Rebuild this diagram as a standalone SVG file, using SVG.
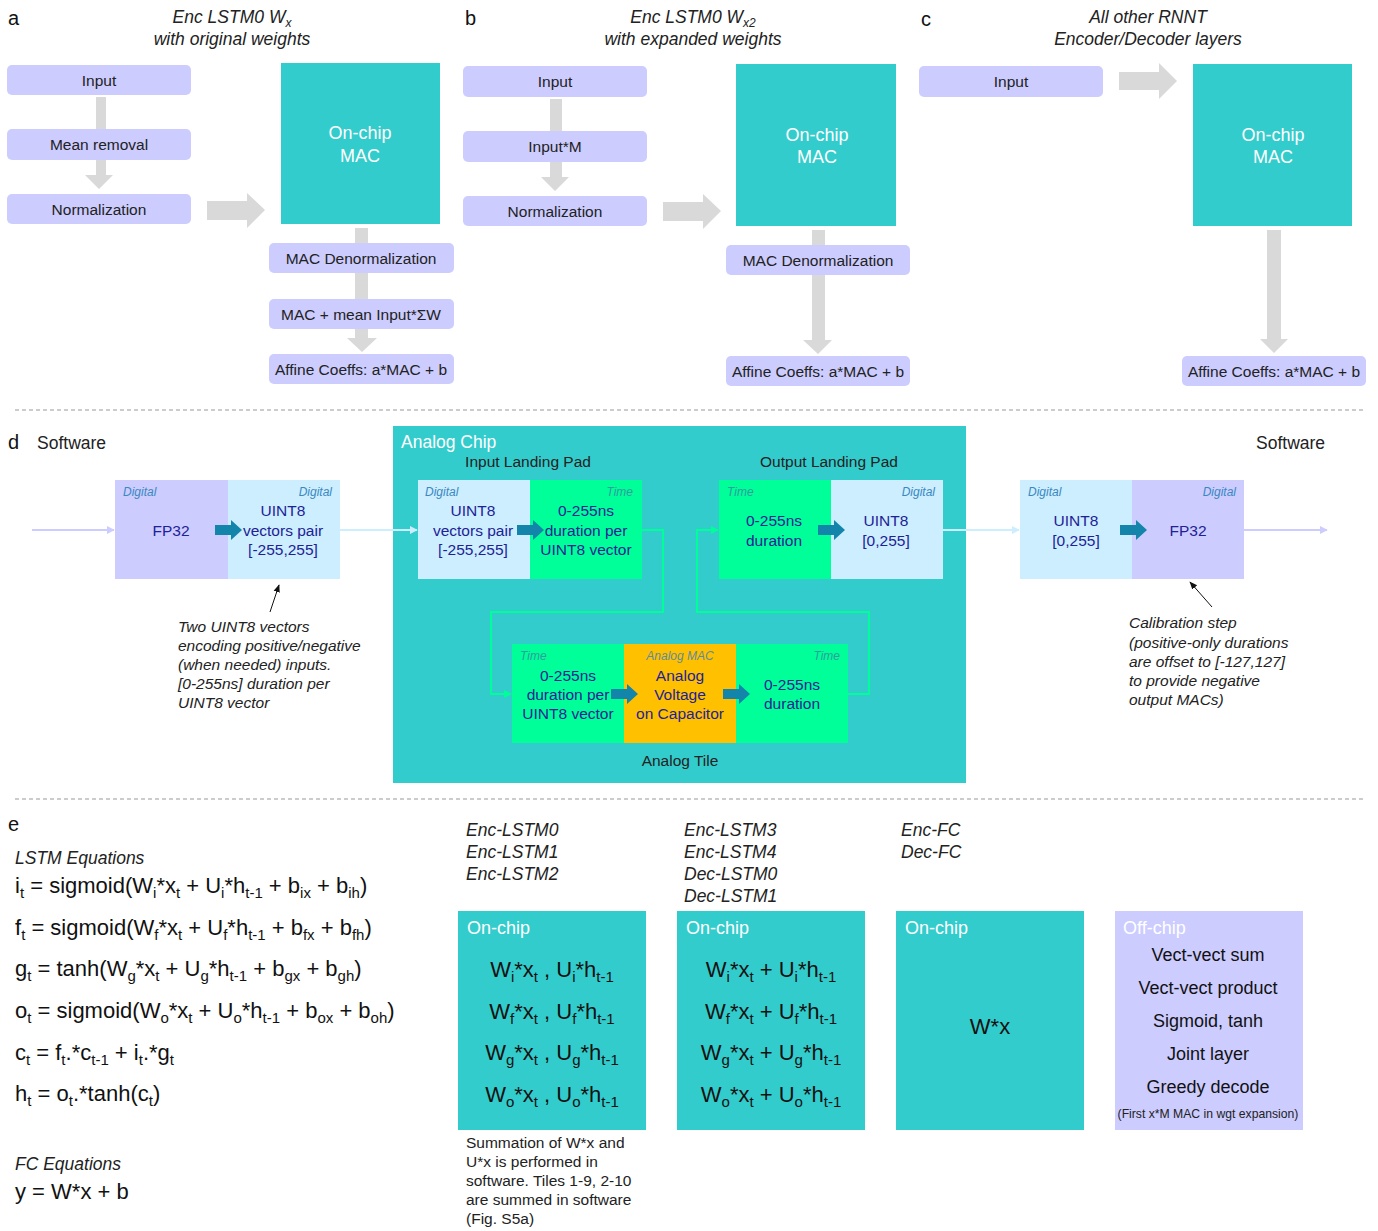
<svg xmlns="http://www.w3.org/2000/svg" xmlns:xlink="http://www.w3.org/1999/xlink" width="1378" height="1231" viewBox="0 0 1378 1231">
<style>
text{font-family:"Liberation Sans",Arial,sans-serif;fill:#222}
.lbl{font-size:20px;fill:#111}
.ttl{font-size:17.5px;font-style:italic;text-anchor:middle}
.bx{fill:#CCCCFF}
.bt{font-size:15.5px;text-anchor:middle}
.mac{fill:#33CCCC}
.mt{font-size:18px;fill:#fff;text-anchor:middle}
.ga{fill:#D9D9D9}
.dl{fill:#CCCCFF}
.db{fill:#CCEEFF}
.dg{fill:#00FF99}
.do{fill:#FFC000}
.dt{font-size:15.5px;fill:#1E2296;text-anchor:middle}
.sm{font-size:12px;font-style:italic;fill:#3A88C0}
.tm{font-size:12px;font-style:italic;fill:#2E9E9E}
.am{font-size:12px;font-style:italic;fill:#5F8C9A}
.ann{font-size:15.5px;font-style:italic;fill:#222}
.eq{font-size:22px;fill:#111}
.sb{font-size:15px}
.it{font-size:17.5px;font-style:italic}
.wt{font-size:18px;fill:#fff}
.ot{font-size:18px;text-anchor:middle;fill:#111}
.dash{stroke:#999;stroke-width:1.2;stroke-dasharray:4 3;fill:none}
</style>
<defs>
<path id="barrow" d="M0,-5 H16 V-10 L27,0 L16,10 V5 H0 Z" fill="#1485AA"/>
<marker id="mL" viewBox="0 0 10 10" refX="9" refY="5" markerWidth="4" markerHeight="4" orient="auto" markerUnits="strokeWidth"><path d="M0,0 L10,5 L0,10 Z" fill="#CCCCFF"/></marker>
<marker id="mB" viewBox="0 0 10 10" refX="9" refY="5" markerWidth="4" markerHeight="4" orient="auto" markerUnits="strokeWidth"><path d="M0,0 L10,5 L0,10 Z" fill="#CCEEFF"/></marker>
<marker id="mG" viewBox="0 0 10 10" refX="9" refY="5" markerWidth="4" markerHeight="4" orient="auto" markerUnits="strokeWidth"><path d="M0,0 L10,5 L0,10 Z" fill="#00FF99"/></marker>
<marker id="mK" viewBox="0 0 10 10" refX="9" refY="5" markerWidth="8" markerHeight="8" orient="auto" markerUnits="strokeWidth"><path d="M0,1 L10,5 L0,9 Z" fill="#111"/></marker>
</defs>
<rect width="1378" height="1231" fill="#fff"/>

<!-- panel labels -->
<text class="lbl" x="8" y="25">a</text>
<text class="lbl" x="465" y="25">b</text>
<text class="lbl" x="921" y="26">c</text>
<text class="lbl" x="8" y="449">d</text>
<text class="lbl" x="8" y="831">e</text>

<!-- titles -->
<text class="ttl" x="232" y="23">Enc LSTM0 W<tspan dy="4" font-size="12">x</tspan></text>
<text class="ttl" x="232" y="45">with original weights</text>
<text class="ttl" x="693" y="23">Enc LSTM0 W<tspan dy="4" font-size="12">x2</tspan></text>
<text class="ttl" x="693" y="45">with expanded weights</text>
<text class="ttl" x="1148" y="23">All other RNNT</text>
<text class="ttl" x="1148" y="45">Encoder/Decoder layers</text>

<g id="connectors">
 <!-- panel a -->
 <polygon class="ga" points="96,97 106,97 106,175 113,175 99,189 85,175 96,175"/>
 <polygon class="ga" points="207,201 247,201 247,193 265,210 247,228 247,220 207,220"/>
 <polygon class="ga" points="355,228 368,228 368,338 377,338 362,352 347,338 355,338"/>
 <!-- panel b -->
 <polygon class="ga" points="550,99 562,99 562,177 569,177 555,191 541,177 550,177"/>
 <polygon class="ga" points="663,202 703,202 703,194 721,211 703,229 703,221 663,221"/>
 <polygon class="ga" points="812,230 825,230 825,340 832,340 818,354 803,340 812,340"/>
 <!-- panel c -->
 <polygon class="ga" points="1119,72 1159,72 1159,63 1177,81 1159,99 1159,90 1119,90"/>
 <polygon class="ga" points="1267,230 1281,230 1281,339 1288,339 1274,353 1260,339 1267,339"/>
</g>

<!-- panel a nodes -->
<g id="a-input"><rect class="bx" x="7" y="65" width="184" height="30" rx="5"/><text class="bt" x="99" y="86">Input</text></g>
<g id="a-mean"><rect class="bx" x="7" y="129" width="184" height="31" rx="5"/><text class="bt" x="99" y="150">Mean removal</text></g>
<g id="a-norm"><rect class="bx" x="7" y="194" width="184" height="30" rx="5"/><text class="bt" x="99" y="215">Normalization</text></g>
<g id="a-mac"><rect class="mac" x="281" y="63" width="159" height="161"/><text class="mt" x="360" y="139">On-chip</text><text class="mt" x="360" y="162">MAC</text></g>
<g id="a-denorm"><rect class="bx" x="269" y="243" width="185" height="30" rx="5"/><text class="bt" x="361" y="264">MAC Denormalization</text></g>
<g id="a-meanin"><rect class="bx" x="269" y="299" width="185" height="30" rx="5"/><text class="bt" x="361" y="320">MAC + mean Input*ΣW</text></g>
<g id="a-affine"><rect class="bx" x="269" y="354" width="185" height="30" rx="5"/><text class="bt" x="361" y="375">Affine Coeffs: a*MAC + b</text></g>

<!-- panel b nodes -->
<g id="b-input"><rect class="bx" x="463" y="66" width="184" height="31" rx="5"/><text class="bt" x="555" y="87">Input</text></g>
<g id="b-inputm"><rect class="bx" x="463" y="131" width="184" height="31" rx="5"/><text class="bt" x="555" y="152">Input*M</text></g>
<g id="b-norm"><rect class="bx" x="463" y="196" width="184" height="30" rx="5"/><text class="bt" x="555" y="217">Normalization</text></g>
<g id="b-mac"><rect class="mac" x="736" y="64" width="160" height="162"/><text class="mt" x="817" y="141">On-chip</text><text class="mt" x="817" y="163">MAC</text></g>
<g id="b-denorm"><rect class="bx" x="726" y="245" width="184" height="30" rx="5"/><text class="bt" x="818" y="266">MAC Denormalization</text></g>
<g id="b-affine"><rect class="bx" x="726" y="356" width="184" height="30" rx="5"/><text class="bt" x="818" y="377">Affine Coeffs: a*MAC + b</text></g>

<!-- panel c nodes -->
<g id="c-input"><rect class="bx" x="919" y="66" width="184" height="31" rx="5"/><text class="bt" x="1011" y="87">Input</text></g>
<g id="c-mac"><rect class="mac" x="1193" y="64" width="159" height="162"/><text class="mt" x="1273" y="141">On-chip</text><text class="mt" x="1273" y="163">MAC</text></g>
<g id="c-affine"><rect class="bx" x="1182" y="356" width="184" height="30" rx="5"/><text class="bt" x="1274" y="377">Affine Coeffs: a*MAC + b</text></g>

<line class="dash" x1="15" y1="410" x2="1365" y2="410"/>
<line class="dash" x1="15" y1="799" x2="1365" y2="799"/>

<!-- panel d -->
<text x="37" y="449" font-size="17.5">Software</text>
<text x="1256" y="449" font-size="17.5">Software</text>

<g id="d-chip"><rect class="mac" x="393" y="426" width="573" height="357"/>
<text x="401" y="448" font-size="17.5" fill="#fff" style="fill:#fff">Analog Chip</text>
<text x="528" y="467" font-size="15.5" text-anchor="middle">Input Landing Pad</text>
<text x="829" y="467" font-size="15.5" text-anchor="middle">Output Landing Pad</text>
<text x="680" y="766" font-size="15.5" text-anchor="middle">Analog Tile</text>
</g>

<g id="d-sw-in">
<rect class="dl" x="115" y="480" width="113" height="99"/>
<rect class="db" x="228" y="480" width="112" height="99"/>
<text class="sm" x="123" y="496">Digital</text>
<text class="sm" x="332" y="496" text-anchor="end">Digital</text>
<text class="dt" x="171" y="536">FP32</text>
<text class="dt" x="283" y="516">UINT8</text>
<text class="dt" x="283" y="536">vectors pair</text>
<text class="dt" x="283" y="555">[-255,255]</text>
</g>

<g id="d-in-pad">
<rect class="db" x="418" y="480" width="112" height="99"/>
<rect class="dg" x="530" y="480" width="112" height="99"/>
<text class="sm" x="425" y="496">Digital</text>
<text class="tm" x="633" y="496" text-anchor="end">Time</text>
<text class="dt" x="473" y="516">UINT8</text>
<text class="dt" x="473" y="536">vectors pair</text>
<text class="dt" x="473" y="555">[-255,255]</text>
<text class="dt" x="586" y="516">0-255ns</text>
<text class="dt" x="586" y="536">duration per</text>
<text class="dt" x="586" y="555">UINT8 vector</text>
</g>

<g id="d-out-pad">
<rect class="dg" x="719" y="480" width="112" height="99"/>
<rect class="db" x="831" y="480" width="112" height="99"/>
<text class="tm" x="727" y="496">Time</text>
<text class="sm" x="935" y="496" text-anchor="end">Digital</text>
<text class="dt" x="774" y="526">0-255ns</text>
<text class="dt" x="774" y="546">duration</text>
<text class="dt" x="886" y="526">UINT8</text>
<text class="dt" x="886" y="546">[0,255]</text>
</g>

<g id="d-tile">
<rect class="dg" x="512" y="644" width="112" height="99"/>
<rect class="do" x="624" y="644" width="112" height="99"/>
<rect class="dg" x="736" y="644" width="112" height="99"/>
<text class="tm" x="520" y="660">Time</text>
<text class="am" x="680" y="660" text-anchor="middle">Analog MAC</text>
<text class="tm" x="840" y="660" text-anchor="end">Time</text>
<text class="dt" x="568" y="681">0-255ns</text>
<text class="dt" x="568" y="700">duration per</text>
<text class="dt" x="568" y="719">UINT8 vector</text>
<text class="dt" x="680" y="681">Analog</text>
<text class="dt" x="680" y="700">Voltage</text>
<text class="dt" x="680" y="719">on Capacitor</text>
<text class="dt" x="792" y="690">0-255ns</text>
<text class="dt" x="792" y="709">duration</text>
</g>

<g id="d-sw-out">
<rect class="db" x="1020" y="480" width="112" height="99"/>
<rect class="dl" x="1132" y="480" width="112" height="99"/>
<text class="sm" x="1028" y="496">Digital</text>
<text class="sm" x="1236" y="496" text-anchor="end">Digital</text>
<text class="dt" x="1076" y="526">UINT8</text>
<text class="dt" x="1076" y="546">[0,255]</text>
<text class="dt" x="1188" y="536">FP32</text>
</g>

<g id="d-connectors">
<line x1="32" y1="530" x2="114" y2="530" stroke="#CCCCFF" stroke-width="2" marker-end="url(#mL)"/>
<line x1="340" y1="530" x2="417" y2="530" stroke="#CCEEFF" stroke-width="2" marker-end="url(#mB)"/>
<line x1="943" y1="530" x2="1019" y2="530" stroke="#CCEEFF" stroke-width="2" marker-end="url(#mB)"/>
<line x1="1244" y1="530" x2="1327" y2="530" stroke="#CCCCFF" stroke-width="2" marker-end="url(#mL)"/>
<path d="M642,530 H663 V612 H491 V694 H511" fill="none" stroke="#00FF99" stroke-width="2" marker-end="url(#mG)"/>
<path d="M848,694 H869 V612 H697 V530 H718" fill="none" stroke="#00FF99" stroke-width="2" marker-end="url(#mG)"/>
<use xlink:href="#barrow" href="#barrow" x="215" y="530"/>
<use xlink:href="#barrow" href="#barrow" x="517" y="530"/>
<use xlink:href="#barrow" href="#barrow" x="818" y="530"/>
<use xlink:href="#barrow" href="#barrow" x="611" y="694"/>
<use xlink:href="#barrow" href="#barrow" x="723" y="694"/>
<use xlink:href="#barrow" href="#barrow" x="1120" y="530"/>
<line x1="270" y1="612" x2="279" y2="585" stroke="#111" stroke-width="1" marker-end="url(#mK)"/>
<line x1="1212" y1="607" x2="1190" y2="582" stroke="#111" stroke-width="1" marker-end="url(#mK)"/>
</g>

<g id="d-notes">
<text class="ann" x="178" y="632">Two UINT8 vectors</text>
<text class="ann" x="178" y="651">encoding positive/negative</text>
<text class="ann" x="178" y="670">(when needed) inputs.</text>
<text class="ann" x="178" y="689">[0-255ns] duration per</text>
<text class="ann" x="178" y="708">UINT8 vector</text>
<text class="ann" x="1129" y="628">Calibration step</text>
<text class="ann" x="1129" y="648">(positive-only durations</text>
<text class="ann" x="1129" y="667">are offset to [-127,127]</text>
<text class="ann" x="1129" y="686">to provide negative</text>
<text class="ann" x="1129" y="705">output MACs)</text>
</g>

<!-- panel e -->
<g id="e-equations">
<text class="it" x="15" y="864">LSTM Equations</text>
<text class="eq" x="15" y="893">i<tspan class="sb" dy="5">t</tspan><tspan dy="-5"> = sigmoid(W</tspan><tspan class="sb" dy="5">i</tspan><tspan dy="-5">*x</tspan><tspan class="sb" dy="5">t</tspan><tspan dy="-5"> + U</tspan><tspan class="sb" dy="5">i</tspan><tspan dy="-5">*h</tspan><tspan class="sb" dy="5">t-1</tspan><tspan dy="-5"> + b</tspan><tspan class="sb" dy="5">ix</tspan><tspan dy="-5"> + b</tspan><tspan class="sb" dy="5">ih</tspan><tspan dy="-5">)</tspan></text>
<text class="eq" x="15" y="935">f<tspan class="sb" dy="5">t</tspan><tspan dy="-5"> = sigmoid(W</tspan><tspan class="sb" dy="5">f</tspan><tspan dy="-5">*x</tspan><tspan class="sb" dy="5">t</tspan><tspan dy="-5"> + U</tspan><tspan class="sb" dy="5">f</tspan><tspan dy="-5">*h</tspan><tspan class="sb" dy="5">t-1</tspan><tspan dy="-5"> + b</tspan><tspan class="sb" dy="5">fx</tspan><tspan dy="-5"> + b</tspan><tspan class="sb" dy="5">fh</tspan><tspan dy="-5">)</tspan></text>
<text class="eq" x="15" y="976">g<tspan class="sb" dy="5">t</tspan><tspan dy="-5"> = tanh(W</tspan><tspan class="sb" dy="5">g</tspan><tspan dy="-5">*x</tspan><tspan class="sb" dy="5">t</tspan><tspan dy="-5"> + U</tspan><tspan class="sb" dy="5">g</tspan><tspan dy="-5">*h</tspan><tspan class="sb" dy="5">t-1</tspan><tspan dy="-5"> + b</tspan><tspan class="sb" dy="5">gx</tspan><tspan dy="-5"> + b</tspan><tspan class="sb" dy="5">gh</tspan><tspan dy="-5">)</tspan></text>
<text class="eq" x="15" y="1018">o<tspan class="sb" dy="5">t</tspan><tspan dy="-5"> = sigmoid(W</tspan><tspan class="sb" dy="5">o</tspan><tspan dy="-5">*x</tspan><tspan class="sb" dy="5">t</tspan><tspan dy="-5"> + U</tspan><tspan class="sb" dy="5">o</tspan><tspan dy="-5">*h</tspan><tspan class="sb" dy="5">t-1</tspan><tspan dy="-5"> + b</tspan><tspan class="sb" dy="5">ox</tspan><tspan dy="-5"> + b</tspan><tspan class="sb" dy="5">oh</tspan><tspan dy="-5">)</tspan></text>
<text class="eq" x="15" y="1060">c<tspan class="sb" dy="5">t</tspan><tspan dy="-5"> = f</tspan><tspan class="sb" dy="5">t</tspan><tspan dy="-5">.*c</tspan><tspan class="sb" dy="5">t-1</tspan><tspan dy="-5"> + i</tspan><tspan class="sb" dy="5">t</tspan><tspan dy="-5">.*g</tspan><tspan class="sb" dy="5">t</tspan></text>
<text class="eq" x="15" y="1101">h<tspan class="sb" dy="5">t</tspan><tspan dy="-5"> = o</tspan><tspan class="sb" dy="5">t</tspan><tspan dy="-5">.*tanh(c</tspan><tspan class="sb" dy="5">t</tspan><tspan dy="-5">)</tspan></text>
<text class="it" x="15" y="1170">FC Equations</text>
<text class="eq" x="15" y="1199">y = W*x + b</text>
</g>

<g id="e-labels">
<text class="it" x="466" y="836">Enc-LSTM0</text>
<text class="it" x="466" y="858">Enc-LSTM1</text>
<text class="it" x="466" y="880">Enc-LSTM2</text>
<text class="it" x="684" y="836">Enc-LSTM3</text>
<text class="it" x="684" y="858">Enc-LSTM4</text>
<text class="it" x="684" y="880">Dec-LSTM0</text>
<text class="it" x="684" y="902">Dec-LSTM1</text>
<text class="it" x="901" y="836">Enc-FC</text>
<text class="it" x="901" y="858">Dec-FC</text>
</g>

<g id="e-box1">
<rect class="mac" x="458" y="911" width="188" height="219"/>
<text class="wt" x="467" y="934">On-chip</text>
<text class="eq" x="552" y="977" text-anchor="middle">W<tspan class="sb" dy="5">i</tspan><tspan dy="-5">*x</tspan><tspan class="sb" dy="5">t</tspan><tspan dy="-5"> , U</tspan><tspan class="sb" dy="5">i</tspan><tspan dy="-5">*h</tspan><tspan class="sb" dy="5">t-1</tspan></text>
<text class="eq" x="552" y="1019" text-anchor="middle">W<tspan class="sb" dy="5">f</tspan><tspan dy="-5">*x</tspan><tspan class="sb" dy="5">t</tspan><tspan dy="-5"> , U</tspan><tspan class="sb" dy="5">f</tspan><tspan dy="-5">*h</tspan><tspan class="sb" dy="5">t-1</tspan></text>
<text class="eq" x="552" y="1060" text-anchor="middle">W<tspan class="sb" dy="5">g</tspan><tspan dy="-5">*x</tspan><tspan class="sb" dy="5">t</tspan><tspan dy="-5"> , U</tspan><tspan class="sb" dy="5">g</tspan><tspan dy="-5">*h</tspan><tspan class="sb" dy="5">t-1</tspan></text>
<text class="eq" x="552" y="1102" text-anchor="middle">W<tspan class="sb" dy="5">o</tspan><tspan dy="-5">*x</tspan><tspan class="sb" dy="5">t</tspan><tspan dy="-5"> , U</tspan><tspan class="sb" dy="5">o</tspan><tspan dy="-5">*h</tspan><tspan class="sb" dy="5">t-1</tspan></text>
</g>
<g id="e-note">
<text class="ann" style="font-style:normal" x="466" y="1148">Summation of W*x and</text>
<text class="ann" style="font-style:normal" x="466" y="1167">U*x is performed in</text>
<text class="ann" style="font-style:normal" x="466" y="1186">software. Tiles 1-9, 2-10</text>
<text class="ann" style="font-style:normal" x="466" y="1205">are summed in software</text>
<text class="ann" style="font-style:normal" x="466" y="1224">(Fig. S5a)</text>
</g>

<g id="e-box2">
<rect class="mac" x="677" y="911" width="188" height="219"/>
<text class="wt" x="686" y="934">On-chip</text>
<text class="eq" x="771" y="977" text-anchor="middle">W<tspan class="sb" dy="5">i</tspan><tspan dy="-5">*x</tspan><tspan class="sb" dy="5">t</tspan><tspan dy="-5"> + U</tspan><tspan class="sb" dy="5">i</tspan><tspan dy="-5">*h</tspan><tspan class="sb" dy="5">t-1</tspan></text>
<text class="eq" x="771" y="1019" text-anchor="middle">W<tspan class="sb" dy="5">f</tspan><tspan dy="-5">*x</tspan><tspan class="sb" dy="5">t</tspan><tspan dy="-5"> + U</tspan><tspan class="sb" dy="5">f</tspan><tspan dy="-5">*h</tspan><tspan class="sb" dy="5">t-1</tspan></text>
<text class="eq" x="771" y="1060" text-anchor="middle">W<tspan class="sb" dy="5">g</tspan><tspan dy="-5">*x</tspan><tspan class="sb" dy="5">t</tspan><tspan dy="-5"> + U</tspan><tspan class="sb" dy="5">g</tspan><tspan dy="-5">*h</tspan><tspan class="sb" dy="5">t-1</tspan></text>
<text class="eq" x="771" y="1102" text-anchor="middle">W<tspan class="sb" dy="5">o</tspan><tspan dy="-5">*x</tspan><tspan class="sb" dy="5">t</tspan><tspan dy="-5"> + U</tspan><tspan class="sb" dy="5">o</tspan><tspan dy="-5">*h</tspan><tspan class="sb" dy="5">t-1</tspan></text>
</g>

<g id="e-box3">
<rect class="mac" x="896" y="911" width="188" height="219"/>
<text class="wt" x="905" y="934">On-chip</text>
<text class="eq" x="990" y="1034" text-anchor="middle">W*x</text>
</g>

<g id="e-box4">
<rect class="dl" x="1115" y="911" width="188" height="219"/>
<text class="wt" x="1123" y="934">Off-chip</text>
<text class="ot" x="1208" y="961">Vect-vect sum</text>
<text class="ot" x="1208" y="994">Vect-vect product</text>
<text class="ot" x="1208" y="1027">Sigmoid, tanh</text>
<text class="ot" x="1208" y="1060">Joint layer</text>
<text class="ot" x="1208" y="1093">Greedy decode</text>
<text x="1208" y="1118" font-size="12.2" text-anchor="middle">(First x*M MAC in wgt expansion)</text>
</g>
</svg>
